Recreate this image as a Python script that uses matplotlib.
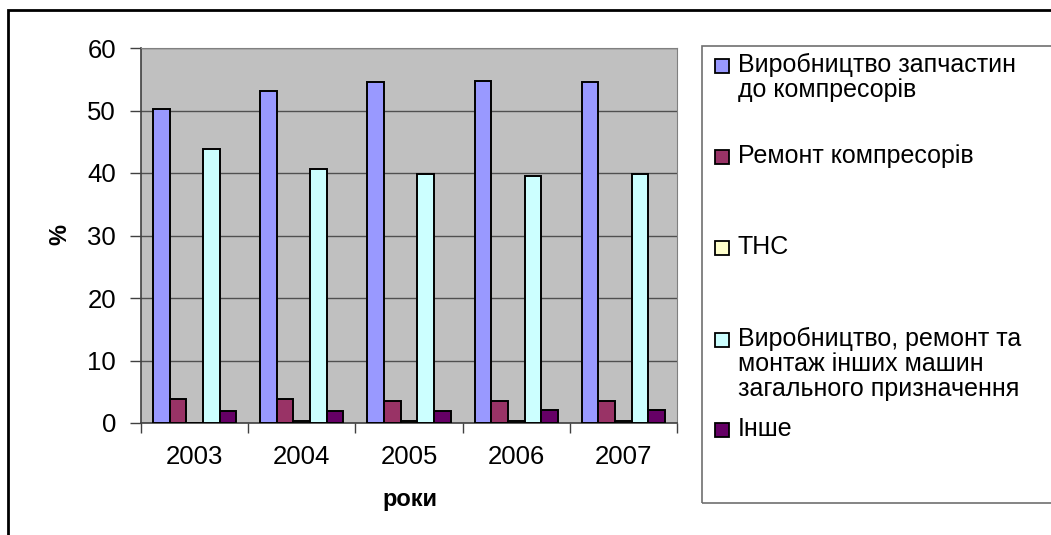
import numpy as np
import matplotlib
matplotlib.use("Agg")
from matplotlib import pyplot as plt
from matplotlib.patches import Rectangle

years = ["2003", "2004", "2005", "2006", "2007"]
series = [
    "Виробництво запчастин\nдо компресорів",
    "Ремонт компресорів",
    "ТНС",
    "Виробництво, ремонт та\nмонтаж інших машин\nзагального призначення",
    "Інше",
]
parts = [50.3, 53.2, 54.5, 54.7, 54.5]
repair = [3.9, 3.9, 3.6, 3.6, 3.6]
ths = [0.0, 0.4, 0.4, 0.4, 0.4]
other_mach = [43.9, 40.7, 39.8, 39.5, 39.8]
other = [1.9, 1.9, 1.9, 2.1, 2.1]
colors = ["#9999FF", "#993366", "#FFFFCC", "#CCFFFF", "#660066"]

plt.rcParams['font.family'] = ['Liberation Sans', 'DejaVu Sans']

W, H = 1051, 535
fig = plt.figure(figsize=(W / 100, H / 100), dpi=100)
ax = fig.add_axes([141 / W, 1 - 423 / H, 536 / W, 375 / H])
ax.set_facecolor("#C0C0C0")

x = np.arange(len(years))
bw = 0.155
data = [parts, repair, ths, other_mach, other]
for i, (vals, c) in enumerate(zip(data, colors)):
    ax.bar(x + (i - 2) * bw, vals, bw, color=c, edgecolor="black", linewidth=1.4, zorder=3)

ax.set_xlim(-0.5, len(years) - 0.5)
ax.set_ylim(0, 60)
ax.set_yticks(range(0, 61, 10))
ax.yaxis.grid(True, color="#505050", linewidth=1.0, zorder=1)
ax.set_xticks(np.arange(-0.5, len(years), 1.0))
ax.set_xticklabels([])
ax.set_xticks(x, minor=True)
ax.set_xticklabels(years, minor=True, fontsize=18.5)
ax.tick_params(axis="x", which="major", length=7, width=1, color="#404040", direction="out")
ax.tick_params(axis="x", which="minor", length=0, pad=16)
ax.tick_params(axis="y", length=8, width=1, color="#404040", labelsize=18.5, pad=10)
for s in ["top", "right"]:
    ax.spines[s].set_color("#808080")
for s in ["left", "bottom"]:
    ax.spines[s].set_color("#404040")
    ax.spines[s].set_linewidth(1.2)

fig.text(60 / W, 1 - 235 / H, "%", rotation=90, fontsize=17, fontweight="bold",
         ha="center", va="center")
fig.text(410 / W, 1 - 506 / H, "роки", fontsize=17, fontweight="bold",
         ha="center", va="baseline")

# outer chart border and legend frame
fig.patches.append(Rectangle((8 / W, -0.1), 1.2, 1.1 - 10 / H, transform=fig.transFigure,
                             fill=False, edgecolor="black", linewidth=2))
fig.patches.append(Rectangle((702 / W, 1 - 503 / H), 1.0, (503 - 46) / H,
                             transform=fig.transFigure, fill=False,
                             edgecolor="#707070", linewidth=1.2))

# legend entries
leg_y = [66, 157, 248, 340, 430]
for lab, c, yy in zip(series, colors, leg_y):
    fig.patches.append(Rectangle((715 / W, 1 - (yy + 7) / H), 14 / W, 14 / H,
                                 transform=fig.transFigure, facecolor=c,
                                 edgecolor="black", linewidth=1.3))
    fig.text(738 / W, 1 - (yy - 13) / H, lab, fontsize=18, ha="left", va="top",
             linespacing=1.05)

fig.savefig("out.png", dpi=100)
